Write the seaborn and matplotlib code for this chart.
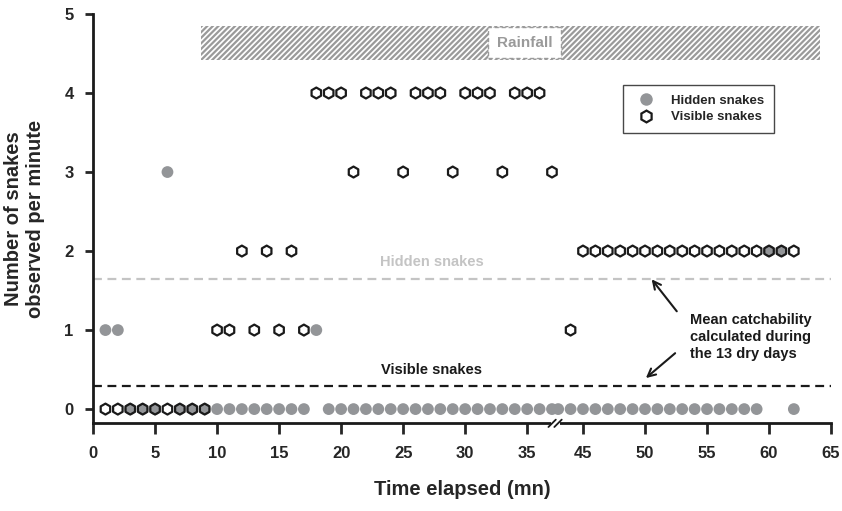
import numpy as np
import pandas as pd
import matplotlib
matplotlib.use("Agg")
import matplotlib.pyplot as plt
import seaborn as sns
from matplotlib.patches import Rectangle
from matplotlib.lines import Line2D

# ---------------- data ----------------
minutes_hidden = list(range(1, 38)) + list(range(43, 63))
hidden = [1, 1, 0, 0, 0, 3, 0, 0, 0,
          0, 0, 0, 0, 0, 0, 0, 0,
          1, 0, 0, 0, 0, 0, 0, 0, 0, 0, 0, 0, 0, 0, 0, 0, 0, 0, 0, 0,
          0, 0, 0, 0, 0, 0, 0, 0, 0, 0, 0, 0, 0, 0, 0, 0, 0, 2, 2, 0]
minutes_visible = list(range(1, 38)) + list(range(44, 63))
visible = [0, 0, 0, 0, 0, 0, 0, 0, 0,
           1, 1, 2, 1, 2, 1, 2, 1,
           4, 4, 4, 3, 4, 4, 4, 3, 4, 4, 4, 3, 4, 4, 4, 3, 4, 4, 4, 3,
           1, 2, 2, 2, 2, 2, 2, 2, 2, 2, 2, 2, 2, 2, 2, 2, 2, 2, 2]
mean_hidden = 1.65
mean_visible = 0.29
rain_start, rain_end = 8.7, 64.1
xticks = [0, 5, 10, 15, 20, 25, 30, 35, 45, 50, 55, 60, 65]
yticks = [0, 1, 2, 3, 4, 5]

df_h = pd.DataFrame({"t": minutes_hidden, "n": hidden})
df_v = pd.DataFrame({"t": minutes_visible, "n": visible})

# broken axis scale
BRK, GAP = 37.25, 5.5


def fwd(t):
    t = np.asarray(t, dtype=float)
    return np.where(t <= BRK, t, np.where(t >= BRK + GAP, t - GAP, BRK))


def inv(p):
    p = np.asarray(p, dtype=float)
    return np.where(p <= BRK, p, p + GAP)


sns.set_style("ticks")
plt.rcParams["font.family"] = ["Liberation Sans", "DejaVu Sans"]
plt.rcParams["font.weight"] = "bold"
plt.rcParams["hatch.linewidth"] = 1.6

fig = plt.figure(figsize=(8.42, 5.11), dpi=100)
ax = fig.add_axes([0.1105, 0.1716, 0.8765, 0.801])
ax.set_xscale("function", functions=(fwd, inv))

HID = "#939598"
# rainfall band
ax.add_patch(Rectangle((rain_start, 4.42), rain_end - rain_start, 0.43,
                       facecolor="white", edgecolor="#9a9a9a", hatch="//////",
                       lw=0, zorder=1))
ax.text(34.8, 4.635, "Rainfall", ha="center", va="center", fontsize=11,
        fontweight="bold", color="#9a9a9a", zorder=3,
        bbox=dict(boxstyle="square,pad=0.55", facecolor="white",
                  edgecolor="#9a9a9a", linestyle=(0, (3, 2)), lw=1))

# mean lines
ax.axhline(mean_hidden, color="#c4c4c4", lw=1.6, ls=(0, (4, 2.5)), zorder=1)
ax.axhline(mean_visible, color="#1a1a1a", lw=1.6, ls=(0, (4, 2.5)), zorder=1)

sns.scatterplot(data=df_h, x="t", y="n", ax=ax, marker="o", s=72,
                color=HID, edgecolor="none", linewidth=0, zorder=4,
                legend=False)
sns.scatterplot(data=df_v, x="t", y="n", ax=ax, marker="h", s=62,
                facecolor="none", edgecolor="#1a1a1a", linewidth=1.6,
                zorder=5, legend=False)

ax.set_xlim(0, 65)
ax.set_ylim(-0.18, 5)
ax.set_xticks(xticks)
ax.set_xticklabels([str(v) for v in xticks], fontsize=12, fontweight="bold")
ax.set_yticks(yticks)
ax.set_yticklabels([str(v) for v in yticks], fontsize=12, fontweight="bold")
ax.tick_params(axis="x", direction="out", length=8, width=2, pad=8)
ax.tick_params(axis="y", direction="out", length=6, width=2, pad=8)
for s in ["left", "bottom"]:
    ax.spines[s].set_linewidth(2)
    ax.spines[s].set_color("#1a1a1a")
sns.despine(ax=ax)
ax.spines["left"].set_bounds(-0.18, 5)

ax.set_xlabel("Time elapsed (mn)", fontsize=14.5, fontweight="bold", labelpad=14)
ax.set_ylabel("Number of snakes\nobserved per minute", fontsize=14.5,
              fontweight="bold", labelpad=14)

# break mark on x axis
bf = BRK / (65 - GAP)
ax.add_patch(Rectangle((bf - 0.006, -0.01), 0.012, 0.02, transform=ax.transAxes,
                       facecolor="white", edgecolor="none", clip_on=False, zorder=6))
for dx in (-0.004, 0.004):
    ax.plot([bf + dx - 0.005, bf + dx + 0.005], [-0.009, 0.009],
            transform=ax.transAxes, color="#1a1a1a", lw=1.3, clip_on=False, zorder=7)

# texts
ax.text(27.3, 1.86, "Hidden snakes", ha="center", va="center", fontsize=10.5,
        fontweight="bold", color="#c4c4c4")
ax.text(27.3, 0.5, "Visible snakes", ha="center", va="center", fontsize=10.5,
        fontweight="bold", color="#1a1a1a")
ax.text(53.6, 0.915, "Mean catchability\ncalculated during\nthe 13 dry days",
        ha="left", va="center", fontsize=10.5, fontweight="bold",
        color="#1a1a1a", linespacing=1.25)
ax.annotate("", xy=(50.4, 1.67), xytext=(52.7, 1.21),
            arrowprops=dict(arrowstyle="->", lw=1.5, color="#1a1a1a",
                            mutation_scale=14))
ax.annotate("", xy=(49.9, 0.37), xytext=(52.6, 0.73),
            arrowprops=dict(arrowstyle="->", lw=1.5, color="#1a1a1a",
                            mutation_scale=14))

handles = [Line2D([], [], marker="o", ls="none", color=HID, markersize=9,
                  markeredgecolor="none"),
           Line2D([], [], marker="h", ls="none", markerfacecolor="none",
                  markeredgecolor="#1a1a1a", markeredgewidth=1.6, markersize=8.5)]
leg = ax.legend(handles, ["Hidden snakes", "Visible snakes"],
                loc="upper left", bbox_to_anchor=(0.718, 0.827),
                frameon=True, fancybox=False, edgecolor="#1a1a1a",
                prop={"weight": "bold", "size": 9.5}, borderpad=0.75,
                handletextpad=0.9, labelspacing=0.3, borderaxespad=0)
leg.get_frame().set_linewidth(1)

fig.savefig("out.png", dpi=100)
